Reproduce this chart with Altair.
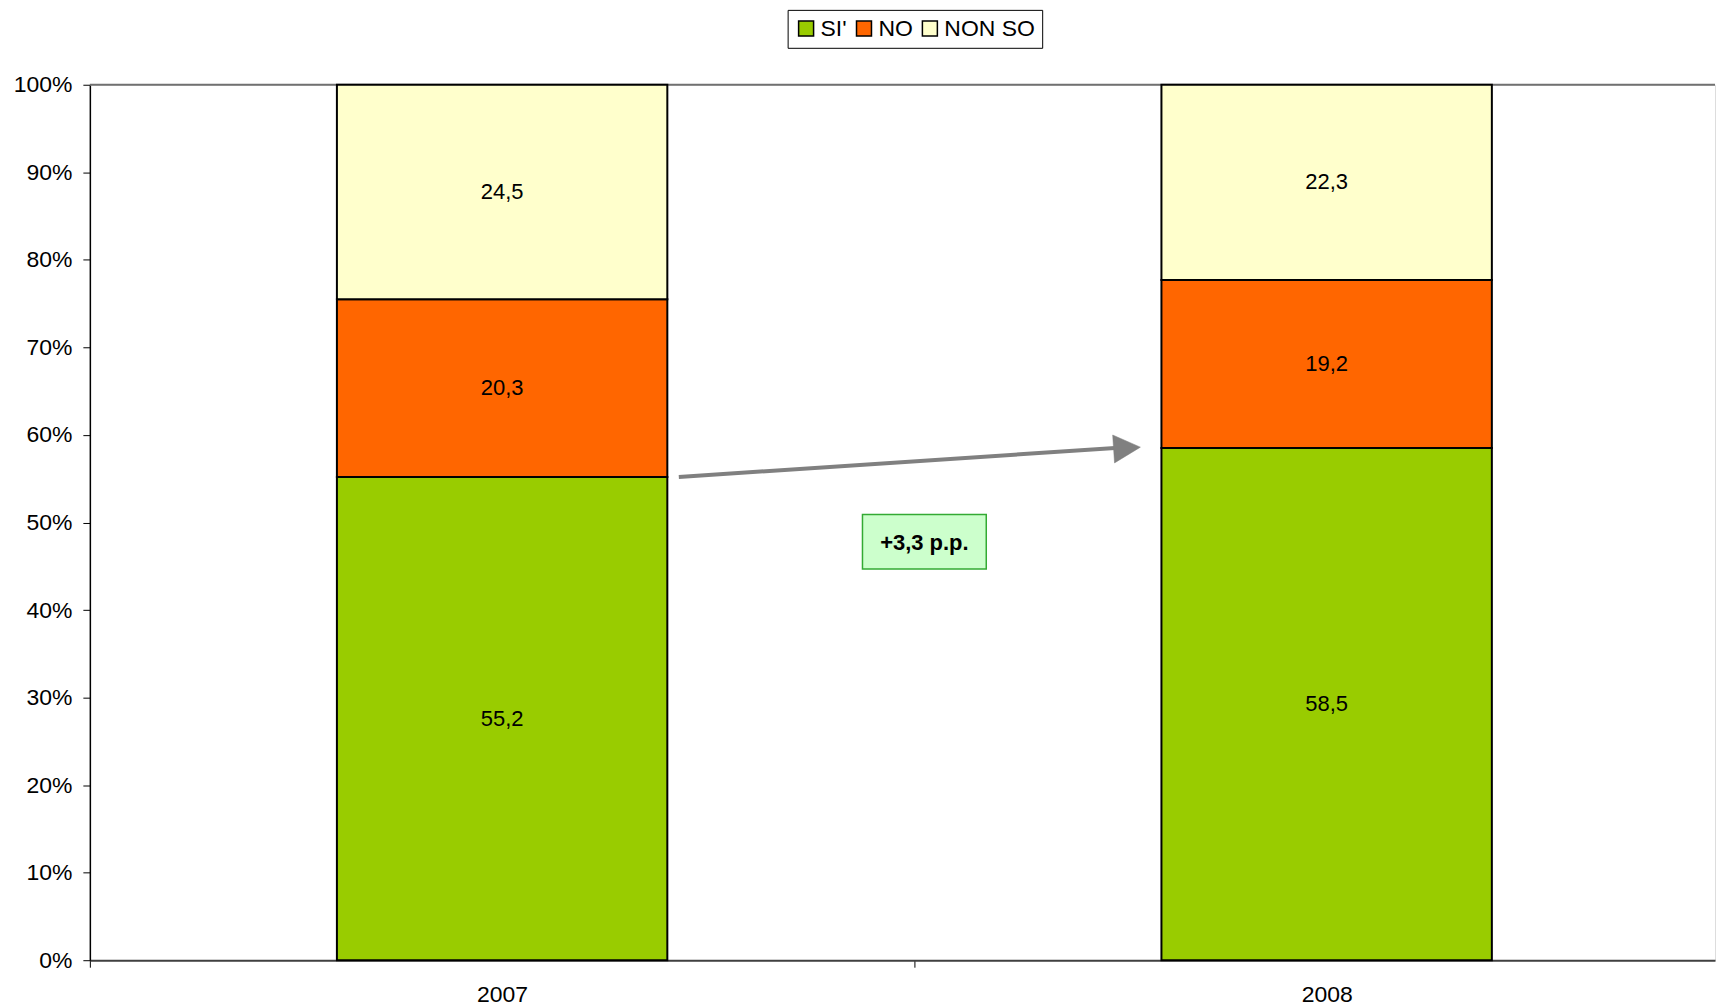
import altair as alt
import pandas as pd

# ---- data ----
years = ["2007", "2008"]
categories = ["SI'", "NO", "NON SO"]
si_values = [55.2, 58.5]
no_values = [20.3, 19.2]
nonso_values = [24.5, 22.3]
colors = ["#99CC00", "#FF6600", "#FFFFCC"]
diff_label = "+3,3 p.p."
diff_box_y = 47.8
y_ticks = [0, 10, 20, 30, 40, 50, 60, 70, 80, 90, 100]

FONT = "Liberation Sans"

rows = []
for i, y in enumerate(years):
    for j, (cat, vals) in enumerate(zip(categories, [si_values, no_values, nonso_values])):
        rows.append({"year": y, "xi": i + 0.5, "cat": cat, "idx": j, "value": vals[i]})
df = pd.DataFrame(rows)

ann = pd.DataFrame([{
    "x_from": 0.5, "x_to": 1.5,
    "y_from": si_values[0], "y_to": si_values[1],
    "box_x": 1.0, "box_y": diff_box_y, "label": diff_label,
}])

# the category slots continue past the right edge of the window, as in the reference
xscale = alt.Scale(domain=[0, 1.971], nice=False, zero=False, padding=0)
yscale = alt.Scale(domain=[0, 100], nice=False, padding=0)

year_expr = "[" + ",".join("'" + y + "'" for y in years) + "]"
x_label_expr = f"datum.value % 1 == 0 ? '' : {year_expr}[floor(datum.value)]"
x_ticks = [0, 0.5, 1, 1.5]

base = alt.Chart(df).transform_stack(
    stack="value", groupby=["year"], as_=["y0", "y1"],
    sort=[alt.SortField("idx", order="ascending")]
).transform_calculate(
    mid="(datum.y0 + datum.y1) / 2",
    txt="replace(format(datum.value, '.1f'), '.', ',')"
)

bars = base.mark_bar(size=331, stroke="black", strokeWidth=2).encode(
    x=alt.X("xi:Q", scale=xscale, title=None,
            axis=alt.Axis(values=x_ticks, labelExpr=x_label_expr, labelAngle=0,
                          tickSize=7, tickColor="black",
                          tickOpacity=alt.condition("datum.value % 1 == 0", alt.value(1), alt.value(0)),
                          domainColor="#404040", domainWidth=2,
                          labelFontSize=23, labelFont=FONT, labelColor="black",
                          labelPadding=16, grid=False, labelFlush=False,
                          labelOverlap=False)),
    y=alt.Y("y0:Q", scale=yscale, title=None,
            axis=alt.Axis(values=y_ticks, labelExpr="datum.value + '%'",
                          tickSize=7, tickColor="black", domainColor="black",
                          domainWidth=1.5, labelFontSize=23, labelFont=FONT,
                          labelColor="black", labelPadding=11, grid=False)),
    y2="y1:Q",
    color=alt.Color("cat:N", scale=alt.Scale(domain=categories, range=colors),
                    legend=alt.Legend(orient="none", legendX=699, legendY=-75,
                                      direction="horizontal", title=None,
                                      symbolType="square", symbolSize=225,
                                      symbolStrokeColor="black", symbolStrokeWidth=1.5,
                                      labelFontSize=23, labelFont=FONT, labelColor="black",
                                      strokeColor="black", fillColor="white", padding=7,
                                      columnPadding=5, labelOffset=3)),
)

labels = base.mark_text(fontSize=22, font=FONT, color="black").encode(
    x=alt.X("xi:Q", scale=xscale),
    y=alt.Y("mid:Q", scale=yscale),
    text="txt:N",
)

# grey line along the 100% level, as in the reference
top_line = alt.Chart(ann).mark_rule(color="#707070", strokeWidth=2).encode(
    y=alt.datum(100, scale=yscale),
)

arrow_line = alt.Chart(ann).mark_rule(
    color="#808080", strokeWidth=4, xOffset=177, x2Offset=-212
).encode(
    x=alt.X("x_from:Q", scale=xscale),
    x2="x_to:Q",
    y=alt.Y("y_from:Q", scale=yscale),
    y2="y_to:Q",
)

arrow_head = alt.Chart(ann).mark_point(
    shape="M-0.96,-1L0.96,0L-0.96,1Z", size=784, filled=True, fill="#808080",
    stroke="#808080", strokeWidth=0.5, opacity=1, angle=356.2, xOffset=-200
).encode(
    x=alt.X("x_to:Q", scale=xscale),
    y=alt.Y("y_to:Q", scale=yscale),
)

box = alt.Chart(ann).mark_point(
    shape="M-1,-0.44L1,-0.44L1,0.44L-1,0.44Z", size=15376, filled=True,
    fill="#CCFFCC", stroke="#33AA33", strokeWidth=1.5, opacity=1, xOffset=10
).encode(
    x=alt.X("box_x:Q", scale=xscale),
    y=alt.Y("box_y:Q", scale=yscale),
)

box_text = alt.Chart(ann).mark_text(
    fontSize=22, font=FONT, fontWeight="bold", color="black", xOffset=10, dy=1
).encode(
    x=alt.X("box_x:Q", scale=xscale),
    y=alt.Y("box_y:Q", scale=yscale),
    text="label:N",
)

chart = alt.layer(top_line, bars, labels, arrow_line, arrow_head, box, box_text).properties(
    width=1628, height=877,
    padding={"left": 5, "top": 0, "right": 0, "bottom": 0},
).configure_view(stroke=None).configure(background="white")

chart.save("out.html", embed_options={"renderer": "svg", "actions": False})
